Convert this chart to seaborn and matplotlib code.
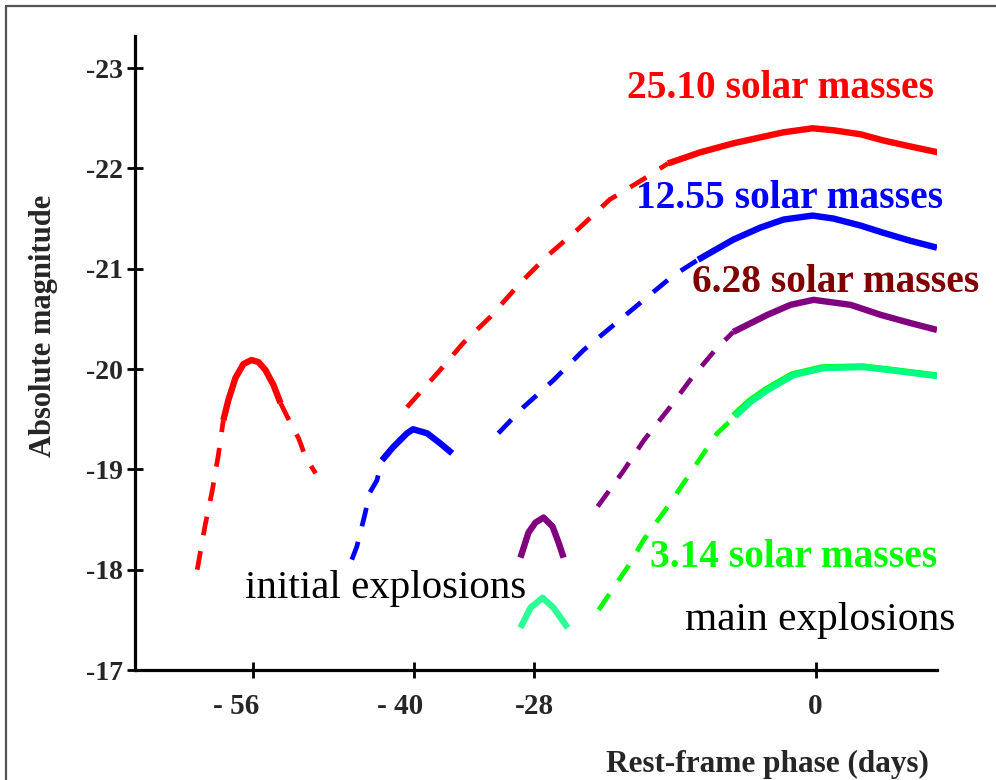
import numpy as np
import matplotlib
matplotlib.use("Agg")
import matplotlib.pyplot as plt
import matplotlib.transforms as mtransforms
from matplotlib.lines import Line2D
import seaborn as sns

# rest-frame phase (days) and absolute magnitude

# initial explosions
red_init_day = [-61.6, -60.8, -60.1, -59.5, -59.0, -58.5, -57.8, -57.0, -56.2, -55.5,
                -54.8, -54.0, -53.3, -52.3, -51.5, -50.8, -49.8]
red_init_mag = [-18.00, -18.45, -18.79, -19.14, -19.49, -19.69, -19.91, -20.05, -20.09, -20.07,
                -19.99, -19.84, -19.66, -19.46, -19.31, -19.12, -18.96]
red_init_solid = (-59.0, -53.3)

blue_init_day = [-46.2, -45.7, -44.9, -44.4, -43.7, -43.2, -42.1, -40.7, -40.1, -38.7, -37.4, -36.2]
blue_init_mag = [-18.10, -18.23, -18.55, -18.77, -18.89, -19.09, -19.22, -19.36, -19.40, -19.36, -19.26, -19.16]
blue_init_solid = (-43.2, None)

purple_init_day = [-29.4, -28.6, -27.9, -27.1, -26.2, -25.6, -25.1]
purple_init_mag = [-18.12, -18.37, -18.47, -18.52, -18.43, -18.27, -18.12]

green_init_day = [-29.4, -28.4, -27.2, -26.1, -24.7]
green_init_mag = [-17.42, -17.62, -17.72, -17.62, -17.42]

# main explosions
red_main_day = [-40.7, -37.4, -35.1, -32.4, -29.4, -26.7, -23.6, -20.5, -17.2, -14.7,
                -11.5, -8.2, -3.2, -0.3, 1.8, 4.5, 6.7, 9.4, 12.2]
red_main_mag = [-19.62, -19.99, -20.26, -20.52, -20.86, -21.13, -21.40, -21.69, -21.89, -22.05,
                -22.16, -22.25, -22.36, -22.40, -22.38, -22.34, -22.28, -22.22, -22.16]
red_main_solid = (-14.7, None)

blue_main_day = [-31.6, -29.1, -26.1, -23.1, -20.1, -17.1, -14.2, -11.7, -8.2, -5.5,
                 -3.2, -0.3, 1.8, 4.5, 6.7, 9.4, 12.1]
blue_main_mag = [-19.36, -19.62, -19.89, -20.19, -20.44, -20.69, -20.93, -21.09, -21.29, -21.41,
                 -21.49, -21.53, -21.50, -21.43, -21.36, -21.28, -21.21]
blue_main_solid = (-11.7, None)

purple_main_day = [-21.7, -19.1, -17.1, -14.5, -12.5, -10.0, -8.2, -4.8, -2.5, -0.2,
                   3.5, 6.5, 9.4, 12.1]
purple_main_mag = [-18.63, -18.99, -19.29, -19.62, -19.89, -20.19, -20.37, -20.54, -20.64, -20.69,
                   -20.64, -20.54, -20.46, -20.39]
purple_main_solid = (-8.2, None)

green_main_day = [-21.6, -18.7, -17.1, -14.5, -12.5, -9.8, -8.0, -6.5, -4.8, -2.2,
                  0.8, 4.8, 8.2, 12.2]
green_main_mag = [-17.60, -18.03, -18.30, -18.66, -18.96, -19.36, -19.53, -19.67, -19.79, -19.94,
                  -20.01, -20.02, -19.98, -19.93]
green_main_solid = (-8.0, None)

mass_labels = ["25.10 solar masses", "12.55 solar masses", "6.28 solar masses", "3.14 solar masses"]
label_day = [-18.8, -17.9, -12.3, -16.5]
label_mag = [-22.70, -21.61, -20.77, -18.03]

x_ticks = [-56, -40, -28, 0]
x_tick_labels = ["- 56", "- 40", "-28", "0"]
y_ticks = [-17, -18, -19, -20, -21, -22, -23]
y_tick_labels = ["-17", "-18", "-19", "-20", "-21", "-22", "-23"]

RED = "#ff0000"
BLUE = "#0000ff"
PURPLE = "#800080"
MAROON = "#800000"
LIME = "#00ff00"
SPRING = "#00ff80"
MINT = "#2cff96"

DASH = (0, (4, 3.4))
LW_DASH = 3.4
LW_SOLID = 4.6
# leftward nudge (points) of each x tick label, so the digits sit on the tick
X_LABEL_NUDGE = [12.5, 10.0, 0.0, 0.0]


def split(day, mag, solid):
    """cut a curve into dashed / solid / dashed pieces"""
    day = np.asarray(day)
    mag = np.asarray(mag)
    lo, hi = solid
    hi = np.inf if hi is None else hi
    pieces = []
    pre = day <= lo
    mid = (day >= lo) & (day <= hi)
    post = day >= hi
    if pre.sum() > 1:
        pieces.append((day[pre], mag[pre], "dashed"))
    pieces.append((day[mid], mag[mid], "solid"))
    if np.isfinite(hi) and post.sum() > 1:
        pieces.append((day[post], mag[post], "dashed"))
    return pieces


def draw(ax, pieces, color, transform=None):
    for x, y, kind in pieces:
        kws = dict(linestyle=DASH, lw=LW_DASH) if kind == "dashed" else dict(lw=LW_SOLID)
        sns.lineplot(x=x, y=y, ax=ax, color=color, estimator=None, sort=False,
                     legend=False, solid_capstyle="butt", dash_capstyle="butt", **kws)
        if transform is not None:
            ax.lines[-1].set_transform(transform)


sns.set_style("ticks")
plt.rcParams["font.family"] = ["Liberation Serif", "DejaVu Serif"]

fig = plt.figure(figsize=(9.96, 7.8), dpi=100)
ax = fig.add_axes([135 / 996, 1 - 670 / 780, 802 / 996, 634 / 780])

draw(ax, split(red_init_day, red_init_mag, red_init_solid), RED)
draw(ax, split(blue_init_day, blue_init_mag, blue_init_solid), BLUE)
draw(ax, [(purple_init_day, purple_init_mag, "solid")], PURPLE)
draw(ax, [(green_init_day, green_init_mag, "solid")], MINT)

draw(ax, split(red_main_day, red_main_mag, red_main_solid), RED)
draw(ax, split(blue_main_day, blue_main_mag, blue_main_solid), BLUE)
draw(ax, split(purple_main_day, purple_main_mag, purple_main_solid), PURPLE)
green_pieces = split(green_main_day, green_main_mag, green_main_solid)
draw(ax, [green_pieces[0]], LIME)
# thin lime edge on the rising part of the green curve
shift = mtransforms.offset_copy(ax.transData, fig=fig, x=-1.6, y=0.6, units="dots")
draw(ax, [green_pieces[1]], LIME, transform=shift)
draw(ax, [green_pieces[1]], SPRING)

label_colors = [RED, BLUE, MAROON, LIME]
for txt, x, y, c in zip(mass_labels, label_day, label_mag, label_colors):
    ax.text(x, y, txt, color=c, fontsize=28.4, fontweight="bold", ha="left", va="baseline")

ax.text(-56.8, -17.72, "initial explosions", color="black", fontsize=29.5, ha="left", va="baseline")
ax.text(-13.0, -17.40, "main explosions", color="black", fontsize=29.8, ha="left", va="baseline")

ax.set_xlim(-67.8, 12.1)
ax.set_ylim(-17, -23.32)
ax.set_xticks(x_ticks)
ax.set_xticklabels(x_tick_labels, fontsize=21, fontweight="bold")
ax.set_yticks(y_ticks)
ax.set_yticklabels(y_tick_labels, fontsize=20, fontweight="bold")
ax.tick_params(axis="both", direction="inout", length=11, width=2, color="black")
ax.tick_params(axis="y", pad=3)
ax.tick_params(axis="x", pad=11)
sns.despine(ax=ax)
for side in ("left", "bottom"):
    ax.spines[side].set_linewidth(2.3)
    ax.spines[side].set_color("black")

for lab, nudge in zip(ax.get_xticklabels(), X_LABEL_NUDGE):
    if nudge:
        off = mtransforms.ScaledTranslation(-nudge / 72, 0, fig.dpi_scale_trans)
        lab.set_transform(lab.get_transform() + off)

ax.set_ylabel("Absolute magnitude", fontsize=22, fontweight="bold")
ax.yaxis.label.set_va("center")
ax.yaxis.set_label_coords(-0.114, 0.5426)
ax.set_xlabel("Rest-frame phase (days)", fontsize=22.5, fontweight="bold")
ax.xaxis.label.set_va("baseline")
ax.xaxis.set_label_coords(0.789, -0.161)

# picture frame (left and top edges)
fig.add_artist(Line2D([6 / 996, 6 / 996], [0, 1 - 6 / 780], transform=fig.transFigure,
                      color="#555555", lw=1.6))
fig.add_artist(Line2D([6 / 996, 1], [1 - 6 / 780, 1 - 6 / 780], transform=fig.transFigure,
                      color="#555555", lw=1.6))

fig.savefig("out.png", dpi=100)
